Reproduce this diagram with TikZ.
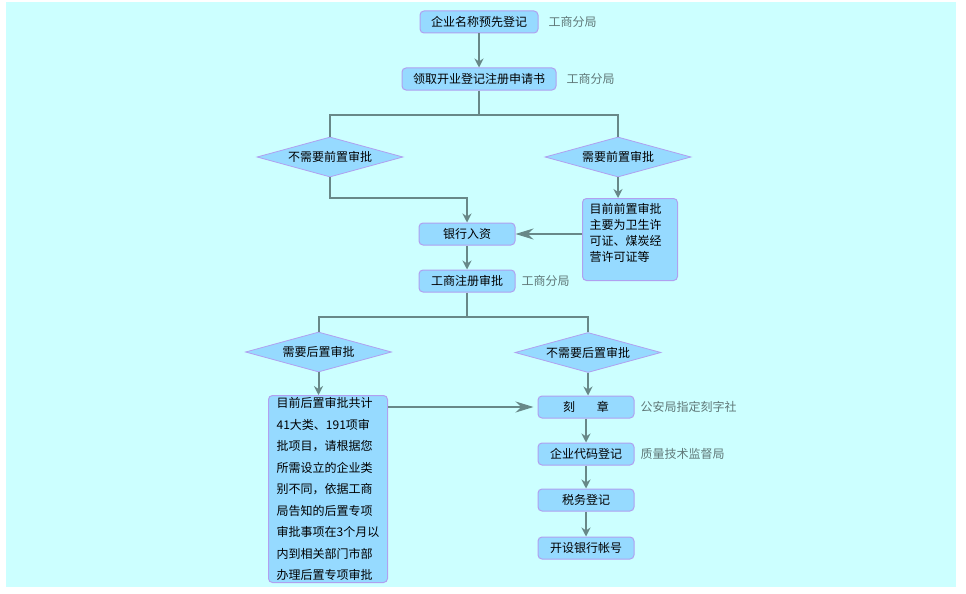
\documentclass[tikz,border=0pt]{standalone}
\usepackage{fontspec}
\newfontfamily\cjk{Noto Sans CJK SC}
\usetikzlibrary{shapes.geometric,arrows.meta}
\definecolor{sheet}{RGB}{204,255,255}
\definecolor{boxfill}{RGB}{150,218,255}
\definecolor{boxline}{RGB}{176,160,240}
\definecolor{flowline}{RGB}{104,136,136}
\definecolor{notegray}{RGB}{96,120,120}
\begin{document}
\begin{tikzpicture}[x=1pt,y=1pt,>={Stealth[length=9pt,width=9pt]}]
	\tikzstyle{stage} = [rectangle,rounded corners=4pt,draw=boxline,fill=boxfill,line width=1pt,minimum width=96pt,minimum height=22pt,inner xsep=11pt,inner ysep=0pt,font=\cjk\fontsize{12}{14}\selectfont]
	\tikzstyle{choice} = [diamond,draw=boxline,fill=boxfill,line width=0.8pt,minimum width=146pt,minimum height=40pt,aspect=3.65,inner sep=0pt,font=\cjk\fontsize{12}{14}\selectfont]
	\tikzstyle{office} = [inner sep=0pt,text=notegray,font=\cjk\fontsize{12}{14}\selectfont]
	\tikzstyle{flow} = [draw=flowline,line width=2pt]
	\tikzstyle{side} = [-{Stealth[length=18pt,width=11pt]}]
	
		\useasboundingbox (0,0) rectangle (966,-594);
		\fill[sheet] (6,-2) rectangle (956,-587);
		
		\node[stage] (name) at (479,-22){企业名称预先登记};
		\node[stage,anchor=north] (form) at ([yshift=-34pt]name.south){领取开业登记注册申请书};
		\node[choice] (nopre) at (330,-157){不需要前置审批};
		\node[choice] (pre) at (618,-157){需要前置审批};
		\node[stage,anchor=north west,minimum width=95pt,minimum height=82pt,inner xsep=7pt,inner ysep=5pt] (prenote) at (582,-198){\parbox[t][72pt][t]{81pt}{\baselineskip=16pt 目前前置审批\\主要为卫生许\\可证、煤炭经\\营许可证等}};
		\node[stage] (bank) at (467,-234){银行入资};
		\node[stage,anchor=north] (check) at ([yshift=-24pt]bank.south){工商注册审批};
		\node[choice] (post) at (318.5,-352){需要后置审批};
		\node[choice] (nopost) at (588,-352.5){不需要后置审批};
		\node[stage,anchor=north west,minimum width=119pt,minimum height=187pt,inner xsep=0pt,align=left,font=\cjk\fontsize{12}{21.5}\selectfont] (postnote) at (268,-395){目前后置审批共计\\41大类、191项审\\批项目，请根据您\\所需设立的企业类\\别不同，依据工商\\局告知的后置专项\\审批事项在3个月以\\内到相关部门市部\\办理后置专项审批};
		\node[stage] (seal) at (586,-407){刻\hspace{1.8em}章};
		\node[stage,anchor=north] (code) at ([yshift=-24pt]seal.south){企业代码登记};
		\node[stage,anchor=north] (tax) at ([yshift=-23pt]code.south){税务登记};
		\node[stage,anchor=north] (account) at ([yshift=-25pt]tax.south){开设银行帐号};
		
		\node[office,anchor=west] (o1) at ([xshift=10pt]name.east){工商分局};
		\node[office,anchor=west] (o2) at ([xshift=10pt]form.east){工商分局};
		\node[office,anchor=west] (o3) at ([xshift=6pt]check.east){工商分局};
		\node[office,anchor=west] (o4) at ([xshift=6pt]seal.east){公安局指定刻字社};
		\node[office,anchor=west] (o5) at ([xshift=6pt]code.east){质量技术监督局};
		
		\draw[flow,->] (name.south) -- (form.north);
		\draw[flow] (form.south) -- ++(0,-24) coordinate (split1);
		\draw[flow] (nopre.north) |- (split1) -| (pre.north);
		\draw[flow,->] (nopre.south) -- ++(0,-21) -| (bank.north);
		\draw[flow,->] (pre.south) -- (pre.south |- prenote.north);
		\draw[flow,side] (prenote.west |- bank.east) -- (bank.east);
		\draw[flow,->] (bank.south) -- (check.north);
		\draw[flow] (check.south) -- ++(0,-24) coordinate (split2);
		\draw[flow] (post.north) |- (split2) -| (nopost.north);
		\draw[flow,->] (post.south) -- (post.south |- postnote.north);
		\draw[flow,->] (nopost.south) -- (nopost.south |- seal.north);
		\draw[flow,side] (postnote.east |- seal.west) -- ([xshift=-4pt]seal.west);
		\draw[flow,->] (seal.south) -- (code.north);
		\draw[flow,->] (code.south) -- (tax.north);
		\draw[flow,->] (tax.south) -- (account.north);
		
\end{tikzpicture}
\end{document}
